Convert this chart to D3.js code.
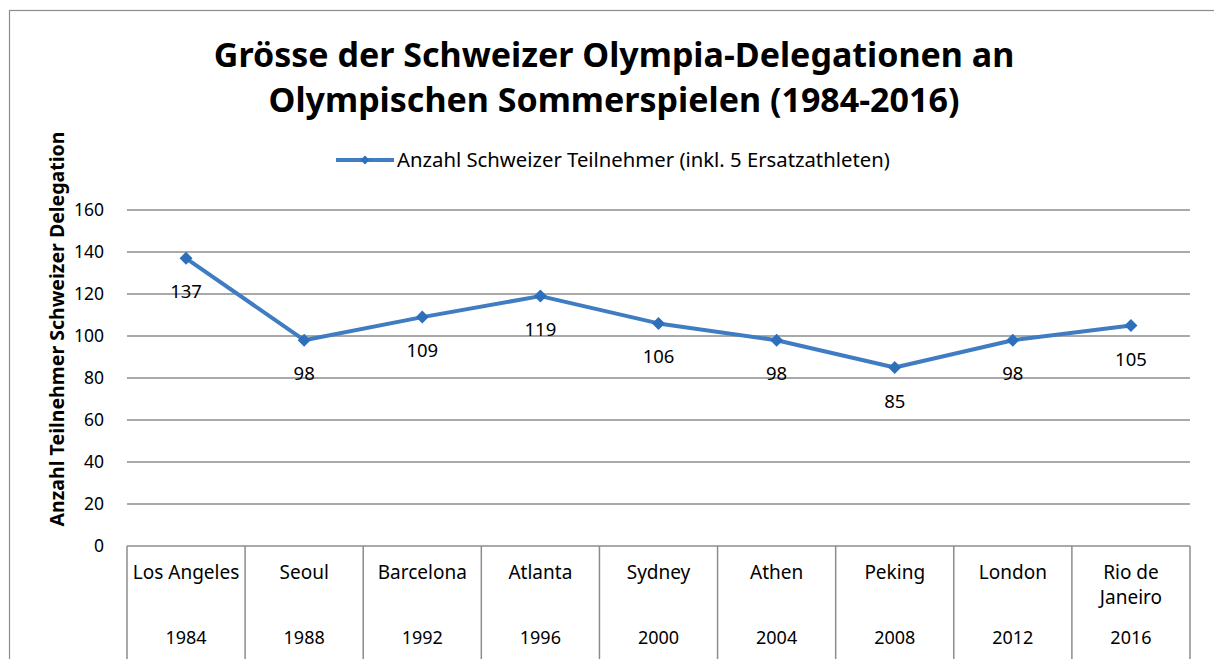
<!DOCTYPE html>
<html>
<head>
<meta charset="utf-8">
<script src="https://cdn.jsdelivr.net/npm/d3@7"></script>
<style>
	body { margin: 0; background: #fff; }
	svg { display: block; font-family: "Noto Sans", "Open Sans", sans-serif; }
</style>
</head>
<body>
<div id="chart"></div>
<script>
var cities = ["Los Angeles", "Seoul", "Barcelona", "Atlanta", "Sydney", "Athen", "Peking", "London", "Rio de Janeiro"];
var years = ["1984", "1988", "1992", "1996", "2000", "2004", "2008", "2012", "2016"];
var teilnehmer = [137, 98, 109, 119, 106, 98, 85, 98, 105];
var yTicks = [0, 20, 40, 60, 80, 100, 120, 140, 160];

var W = 1214, H = 659;
var pLeft = 127, pRight = 1190, pTop = 210, pBottom = 546;
var blue = "#3f7cc2";
var markerBlue = "#2e6fbb";

var svg = d3.select("#chart").append("svg")
	.attr("width", W)
	.attr("height", H);

// chart frame
svg.append("rect")
	.attr("x", 9.5)
	.attr("y", 10.5)
	.attr("width", 1220)
	.attr("height", 700)
	.attr("fill", "none")
	.attr("stroke", "#8c8c8c")
	.attr("stroke-width", 1.2);

var x = d3.scaleBand()
	.domain(cities)
	.range([pLeft, pRight])
	.padding(0);

var y = d3.scaleLinear()
	.domain([0, 160])
	.range([pBottom, pTop]);

// title
var title = svg.append("text")
	.attr("text-anchor", "middle")
	.attr("font-weight", "bold")
	.attr("font-size", "34px")
	.attr("fill", "#000");
title.append("tspan").attr("x", 614).attr("y", 67).text("Grösse der Schweizer Olympia-Delegationen an");
title.append("tspan").attr("x", 614).attr("y", 112).text("Olympischen Sommerspielen (1984-2016)");

// legend
var lg = svg.append("g").attr("transform", "translate(336,160)");
lg.append("line")
	.attr("x1", 0).attr("x2", 58)
	.attr("y1", 0).attr("y2", 0)
	.attr("stroke", blue)
	.attr("stroke-width", 4);
lg.append("path")
	.attr("d", d3.symbol(d3.symbolSquare, 40)())
	.attr("transform", "translate(29,0) rotate(45)")
	.attr("fill", markerBlue);
lg.append("text")
	.attr("x", 61)
	.attr("y", 7)
	.attr("font-size", "20.3px")
	.attr("fill", "#000")
	.text("Anzahl Schweizer Teilnehmer (inkl. 5 Ersatzathleten)");

// gridlines
svg.append("g")
	.selectAll("line")
	.data(yTicks.filter(function(d) { return d > 0; }))
	.enter().append("line")
	.attr("x1", pLeft).attr("x2", pRight)
	.attr("y1", function(d) { return y(d); })
	.attr("y2", function(d) { return y(d); })
	.attr("stroke", "#8c8c8c")
	.attr("stroke-width", 1.5);

// y axis labels
var yAxis = d3.axisLeft(y)
	.tickValues(yTicks)
	.tickSize(0)
	.tickPadding(23);
var ya = svg.append("g")
	.attr("transform", "translate(" + pLeft + ",0)")
	.call(yAxis);
ya.select(".domain").remove();
ya.selectAll("text")
	.attr("font-family", "'Noto Sans', sans-serif")
	.attr("font-size", "17.5px")
	.attr("fill", "#000");

// y axis title
svg.append("text")
	.attr("transform", "translate(64,329) rotate(-90)")
	.attr("text-anchor", "middle")
	.attr("font-weight", "bold")
	.attr("font-size", "19.5px")
	.attr("fill", "#000")
	.text("Anzahl Teilnehmer Schweizer Delegation");

// category table
var tbl = svg.append("g");
tbl.append("line")
	.attr("x1", pLeft).attr("x2", pRight)
	.attr("y1", pBottom).attr("y2", pBottom)
	.attr("stroke", "#8c8c8c")
	.attr("stroke-width", 1.5);
var edges = cities.map(function(c) { return x(c); }).concat([pRight]);
tbl.selectAll(".sep")
	.data(edges)
	.enter().append("line")
	.attr("class", "sep")
	.attr("x1", function(d) { return d; })
	.attr("x2", function(d) { return d; })
	.attr("y1", pBottom)
	.attr("y2", H)
	.attr("stroke", "#8c8c8c")
	.attr("stroke-width", 1.5);

var cell = tbl.selectAll(".cat")
	.data(cities)
	.enter().append("text")
	.attr("class", "cat")
	.attr("text-anchor", "middle")
	.attr("font-size", "19px")
	.attr("fill", "#000");
cell.each(function(d) {
	var t = d3.select(this);
	var parts = d == "Rio de Janeiro" ? ["Rio de", "Janeiro"] : [d];
	parts.forEach(function(p, i) {
		t.append("tspan")
			.attr("x", x(d) + x.bandwidth() / 2)
			.attr("y", 579 + i * 25)
			.text(p);
	});
});

tbl.selectAll(".yr")
	.data(years)
	.enter().append("text")
	.attr("class", "yr")
	.attr("text-anchor", "middle")
	.attr("x", function(d, i) { return x(cities[i]) + x.bandwidth() / 2; })
	.attr("y", 644)
	.attr("font-size", "18px")
	.attr("fill", "#000")
	.text(function(d) { return d; });

// series
var cx = function(d, i) { return x(cities[i]) + x.bandwidth() / 2; };
var line = d3.line()
	.x(cx)
	.y(function(d) { return y(d); });

svg.append("path")
	.datum(teilnehmer)
	.attr("d", line)
	.attr("fill", "none")
	.attr("stroke", blue)
	.attr("stroke-width", 4)
	.attr("stroke-linejoin", "round");

svg.selectAll(".pt")
	.data(teilnehmer)
	.enter().append("path")
	.attr("class", "pt")
	.attr("d", d3.symbol(d3.symbolSquare, 84)())
	.attr("transform", function(d, i) { return "translate(" + cx(d, i) + "," + y(d) + ") rotate(45)"; })
	.attr("fill", markerBlue);

svg.selectAll(".lbl")
	.data(teilnehmer)
	.enter().append("text")
	.attr("class", "lbl")
	.attr("text-anchor", "middle")
	.attr("x", cx)
	.attr("y", function(d) { return y(d) + 40; })
	.attr("font-size", "18.5px")
	.attr("fill", "#000")
	.text(function(d) { return d; });
</script>
</body>
</html>
